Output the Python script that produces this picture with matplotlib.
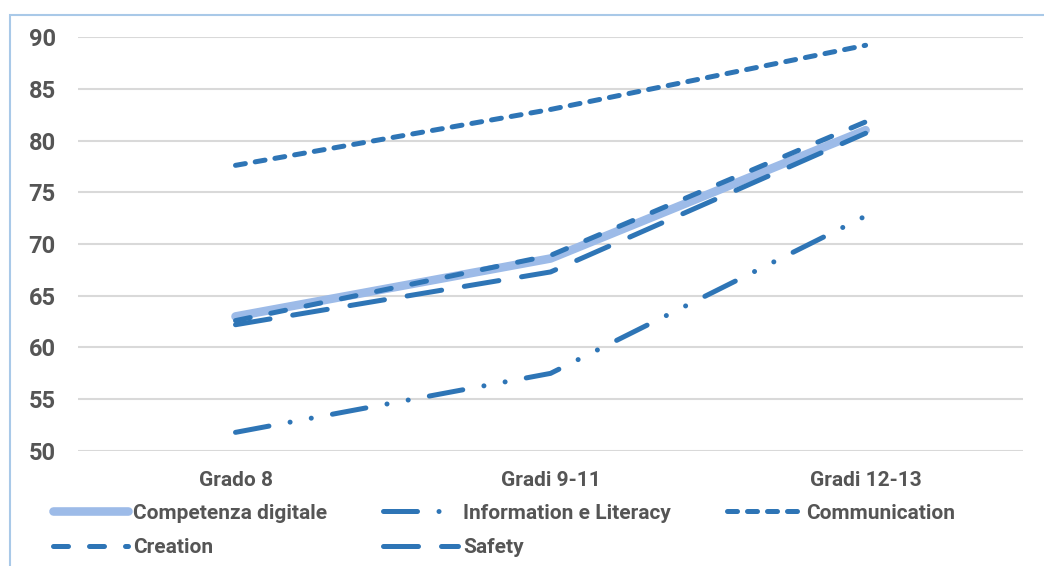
import matplotlib
matplotlib.use('Agg')
import matplotlib.pyplot as plt
from matplotlib.patches import Rectangle

plt.rcParams['font.family'] = ['Roboto', 'DejaVu Sans']
plt.rcParams['font.weight'] = 'bold'

# Scores by school grade
grades = ['Grado 8', 'Gradi 9-11', 'Gradi 12-13']
competenza = [63.0, 68.6, 81.0]
information = [51.8, 57.5, 72.7]
communication = [77.6, 83.0, 89.2]
creation = [62.6, 68.9, 81.8]
safety = [62.2, 67.3, 80.7]

text_color = '#555555'
blue = '#2e75b6'
light = '#9dbbe8'

fig = plt.figure(figsize=(10.44, 5.66), dpi=100)
ax = fig.add_axes([0.0747, 0.2032, 0.9053, 0.7314])

x = range(len(grades))
lw = 3.6
l_comp, = ax.plot(x, competenza, color=light, lw=6.2, solid_capstyle='round',
                  label='Competenza digitale', zorder=2)
l_info, = ax.plot(x, information, color=blue, lw=lw, dash_capstyle='round',
                  dashes=(6.8, 4.3, 0.01, 4.3, 0.01, 4.3),
                  label='Information e Literacy', zorder=3)
l_comm, = ax.plot(x, communication, color=blue, lw=lw, dash_capstyle='round',
                  dashes=(2.0, 2.0), label='Communication', zorder=3)
l_crea, = ax.plot(x, creation, color=blue, lw=lw, dash_capstyle='round',
                  dashes=(3.0, 4.2), label='Creation', zorder=3)
l_safe, = ax.plot(x, safety, color=blue, lw=lw, dash_capstyle='round',
                  dashes=(7.0, 4.6), label='Safety', zorder=3)

ax.set_xlim(-0.5, 2.5)
ax.set_ylim(50, 90)
ax.set_yticks(range(50, 91, 5))
ax.set_xticks(list(x))
ax.set_xticklabels(grades)
ax.grid(axis='y', color='#d9d9d9', lw=1.5)
ax.set_axisbelow(True)
for s in ax.spines.values():
    s.set_visible(False)
ax.tick_params(axis='y', length=0, pad=16, labelsize=17, labelcolor=text_color)
ax.tick_params(axis='x', length=0, pad=14.5, labelsize=15, labelcolor=text_color)

# legend fills column by column, so order the handles to read row by row
handles = [l_comp, l_crea, l_info, l_safe, l_comm]
leg = ax.legend(handles=handles, labels=[h.get_label() for h in handles],
                loc='upper left', bbox_to_anchor=(-0.0265, -0.127, 0.955, 0),
                mode='expand', ncol=3, frameon=False, fontsize=15,
                handlelength=3.6, handletextpad=0.24, labelspacing=0.74,
                borderaxespad=0, borderpad=0)
for t in leg.get_texts():
    t.set_color(text_color)

# light blue frame around the chart area
fig.patches.append(Rectangle((10 / 1044, -0.05), 1.1, 0.9735 + 0.05,
                             transform=fig.transFigure, fill=False,
                             edgecolor='#a9c9e8', lw=1.5))

fig.savefig('out.png', dpi=100)
